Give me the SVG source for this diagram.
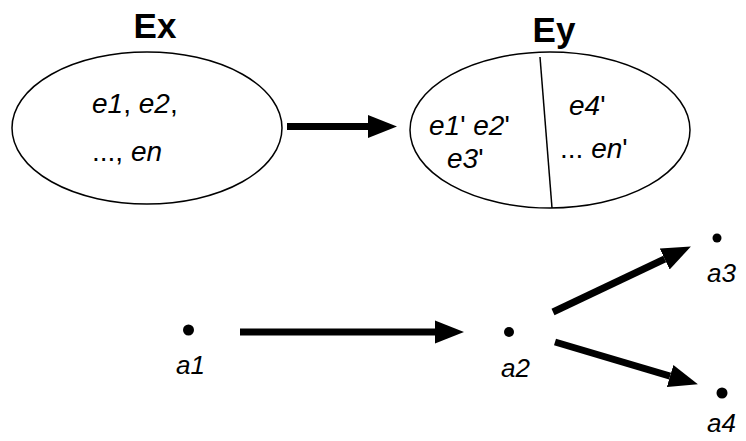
<svg xmlns="http://www.w3.org/2000/svg" width="746" height="441" viewBox="0 0 746 441">
<style>
.title{font-family:"Liberation Sans",Arial,sans-serif;font-weight:bold;font-size:35px;fill:#000}
.t{font-family:"Liberation Sans",Arial,sans-serif;font-style:italic;font-size:28px;fill:#000}
.a{font-family:"Liberation Sans",Arial,sans-serif;font-style:italic;font-size:26px;fill:#000}
.n{font-style:normal}
.ell{fill:#fff;stroke:#000;stroke-width:1.5}
.conn{stroke:#000;stroke-width:7;fill:none}
</style>
<defs>
<marker id="ah" markerUnits="userSpaceOnUse" markerWidth="29" markerHeight="24" viewBox="0 0 29 24" refX="0" refY="12" orient="auto">
<path d="M0,0.5 L29,12 L0,23.5 Z" fill="#000"/>
</marker>
</defs>
<g id="Ex">
<text class="title" x="155" y="38" text-anchor="middle">Ex</text>
<ellipse class="ell" cx="147" cy="128" rx="135" ry="76"/>
<text class="t" x="92" y="113">e1<tspan class="n">, </tspan>e2<tspan class="n">,</tspan></text>
<text class="t" x="92" y="161"><tspan class="n">..., </tspan>en</text>
</g>
<g id="Ey">
<text class="title" x="554" y="42" text-anchor="middle">Ey</text>
<ellipse class="ell" cx="550" cy="130" rx="140" ry="78"/>
<line x1="540" y1="57" x2="552" y2="208" stroke="#000" stroke-width="1.5"/>
<text class="t" x="429" y="135">e1<tspan class="n">' </tspan>e2<tspan class="n">'</tspan></text>
<text class="t" x="447" y="168">e3<tspan class="n">'</tspan></text>
<text class="t" x="569" y="115">e4<tspan class="n">'</tspan></text>
<text class="t" x="560" y="158"><tspan class="n">... </tspan>en<tspan class="n">'</tspan></text>
</g>
<g id="a1">
<circle cx="188.5" cy="330" r="5.5"/>
<text class="a" x="176" y="374">a1</text>
</g>
<g id="a2">
<circle cx="509" cy="332" r="5"/>
<text class="a" x="501" y="377">a2</text>
</g>
<g id="a3">
<circle cx="717" cy="238" r="4.5"/>
<text class="a" x="707" y="282">a3</text>
</g>
<g id="a4">
<circle cx="722" cy="393" r="5.5"/>
<text class="a" x="707" y="432">a4</text>
</g>
<g id="connectors">
<line class="conn" x1="287" y1="126.5" x2="368" y2="126.5" marker-end="url(#ah)"/>
<line class="conn" x1="240" y1="332" x2="435" y2="332" marker-end="url(#ah)"/>
<line class="conn" x1="553" y1="312" x2="664.7" y2="259" marker-end="url(#ah)"/>
<line class="conn" x1="555" y1="342" x2="670.1" y2="376.1" marker-end="url(#ah)"/>
</g>
</svg>
